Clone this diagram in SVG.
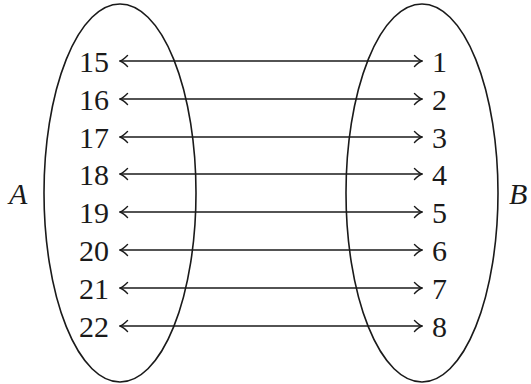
<svg xmlns="http://www.w3.org/2000/svg" width="531" height="384" viewBox="0 0 531 384">
<style>
.set{fill:none;stroke:#1a1a1a;stroke-width:1.6}
.arr{stroke:#1a1a1a;stroke-width:1.4;fill:none;marker-start:url(#h);marker-end:url(#h)}
.n{font-family:"Liberation Serif",serif;font-size:30px;fill:#1a1a1a}
.l{text-anchor:end}
.v{font-family:"Liberation Serif",serif;font-size:30px;font-style:italic;fill:#1a1a1a}
</style>
<defs>
<marker id="h" markerUnits="userSpaceOnUse" viewBox="-9 -7 10 14" refX="0" refY="0" markerWidth="10" markerHeight="14" orient="auto-start-reverse">
<path d="M-7.5,-5.5 Q-3,-1 0,0 Q-3,1 -7.5,5.5" fill="none" stroke="#1a1a1a" stroke-width="1.4" stroke-linecap="round"/>
</marker>
</defs>
<g id="setA"><ellipse class="set" cx="120" cy="193" rx="76" ry="189"/></g>
<g id="setB"><ellipse class="set" cx="422" cy="193" rx="76" ry="189"/></g>
<g id="labelA"><text class="v" x="9" y="204">A</text></g>
<g id="labelB"><text class="v" x="509" y="204">B</text></g>
<g id="nodesA">
<text class="n l" x="109" y="72">15</text>
<text class="n l" x="109" y="110">16</text>
<text class="n l" x="109" y="148">17</text>
<text class="n l" x="109" y="185">18</text>
<text class="n l" x="109" y="223">19</text>
<text class="n l" x="109" y="261">20</text>
<text class="n l" x="109" y="299">21</text>
<text class="n l" x="109" y="337">22</text>
</g>
<g id="nodesB">
<text class="n" x="432" y="72">1</text>
<text class="n" x="432" y="110">2</text>
<text class="n" x="432" y="148">3</text>
<text class="n" x="432" y="185">4</text>
<text class="n" x="432" y="223">5</text>
<text class="n" x="432" y="261">6</text>
<text class="n" x="432" y="299">7</text>
<text class="n" x="432" y="337">8</text>
</g>
<g id="connectors">
<line class="arr" x1="120" y1="61" x2="422" y2="61"/>
<line class="arr" x1="120" y1="99" x2="422" y2="99"/>
<line class="arr" x1="120" y1="137" x2="422" y2="137"/>
<line class="arr" x1="120" y1="174" x2="422" y2="174"/>
<line class="arr" x1="120" y1="212" x2="422" y2="212"/>
<line class="arr" x1="120" y1="250" x2="422" y2="250"/>
<line class="arr" x1="120" y1="288" x2="422" y2="288"/>
<line class="arr" x1="120" y1="326" x2="422" y2="326"/>
</g>
</svg>
